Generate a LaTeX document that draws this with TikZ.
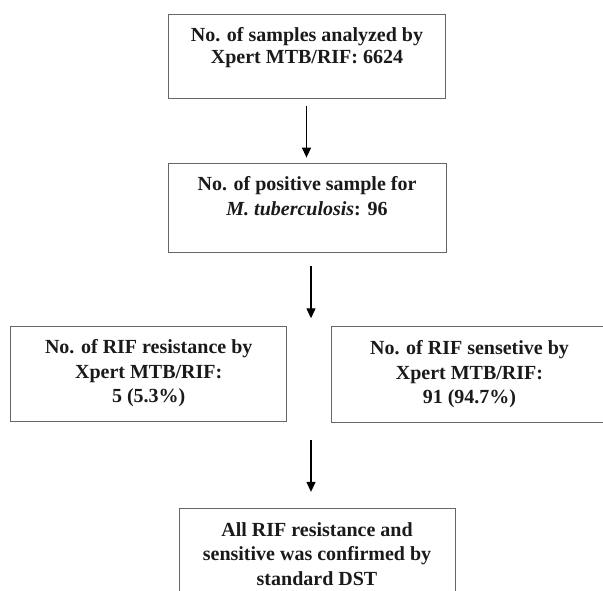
\documentclass[tikz,border=0pt]{standalone}
\usepackage{fontspec}
\setmainfont{Liberation Serif}
\usetikzlibrary{arrows.meta}
\definecolor{boxgray}{HTML}{666666}
\definecolor{txtblack}{HTML}{1A1A1A}
\tikzset{
  box/.style={draw=boxgray, line width=0.9pt, inner sep=0pt},
  txtA/.style={inner sep=0pt, align=center, text=txtblack,
    font=\fontsize{20}{22.3}\selectfont\bfseries, anchor=north},
  txtB/.style={inner sep=0pt, align=center, text=txtblack,
    font=\fontsize{20}{24.7}\selectfont\bfseries, anchor=north},
  arr/.style={draw=black, line width=1.3pt, -{Triangle[length=10pt,width=9pt]}}
}
\begin{document}
\begin{tikzpicture}[x=1pt,y=-1pt]
\useasboundingbox (0,0) rectangle (603,591);
% boxes
\node[box, minimum width=277pt, minimum height=84.3pt] (b1) at (306.5,56.15) {};
\node[box, minimum width=278pt, minimum height=88.7pt] (b2) at (307,207.7) {};
\node[box, minimum width=276pt, minimum height=94.7pt] (b3) at (148.7,373.7) {};
\node[box, minimum width=277pt, minimum height=95.3pt] (b4) at (469.8,374.35) {};
\node[box, minimum width=275.7pt, minimum height=91.7pt] (b5) at (317.15,554.15) {};
% texts
\node[txtA] (t1) at (307,25.4) {\strut No. of samples analyzed by\\Xpert MTB/RIF: 6624};
\node[txtB] (t2) at (307,173.4) {\strut No. of positive sample for\\\textit{M. tuberculosis}: 96};
\node[txtB] (t3) at (148.7,336.0) {\strut No. of RIF resistance by\\Xpert MTB/RIF:\\5 (5.3\%)};
\node[txtB] (t4) at (469.5,337.0) {\strut No. of RIF sensetive by\\Xpert MTB/RIF:\\91 (94.7\%)};
\node[txtB] (t5) at (317,518.7) {\strut All RIF resistance and\\sensitive was confirmed by\\standard DST};
% connectors
\coordinate (split) at (311,326.5);
\coordinate (merge) at (311,421.5);
\draw[arr, shorten <=7.7pt, shorten >=5.3pt] (b1.south) -- (b1.south |- b2.north);
\draw[arr, shorten <=13.7pt, shorten >=8.2pt] (b2.south -| split) -- (split);
\draw[arr, shorten <=18.5pt, shorten >=16pt] (merge) -- (merge |- b5.north);
\end{tikzpicture}
\end{document}
